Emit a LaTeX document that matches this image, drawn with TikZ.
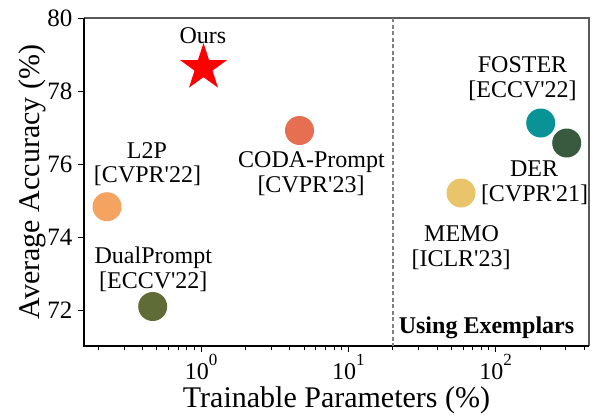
\documentclass[tikz,border=0pt]{standalone}
\usepackage{fontspec}
\setmainfont{Liberation Serif}[Ligatures=TeXOff]
\usetikzlibrary{shapes.geometric}
\definecolor{cL}{HTML}{F4A460}
\definecolor{cD}{HTML}{606C38}
\definecolor{cC}{HTML}{E76F51}
\definecolor{cF}{HTML}{0A9396}
\definecolor{cR}{HTML}{3A5A40}
\definecolor{cM}{HTML}{E9C46A}
\definecolor{spinegray}{gray}{0.35}
\tikzset{
  dot/.style={circle, inner sep=0pt, minimum size=29pt},
  lab/.style={font=\fontsize{24}{24}\selectfont, anchor=base, inner sep=0pt},
  ytl/.style={font=\fontsize{25}{25}\selectfont, anchor=base east, inner sep=0pt},
  xtl/.style={font=\fontsize{24}{24}\selectfont, anchor=base, inner sep=0pt},
  axlab/.style={font=\fontsize{30}{30}\selectfont, anchor=base, inner sep=0pt},
  spine/.style={line width=1.4pt},
  tick/.style={line width=1pt}
}
\newcommand{\tenp}[1]{10\raisebox{14pt}{\fontsize{17}{17}\selectfont #1}}
\begin{document}
\begin{tikzpicture}[x=1pt,y=-1pt]
\fill[white] (0,0) rectangle (593,416);
\useasboundingbox (0,0) rectangle (593,416);
% axes frame
\coordinate (bl) at (84,346);
\coordinate (tl) at (84,18);
\coordinate (tr) at (589,18);
\coordinate (br) at (589,346);
\draw[spine, spinegray] (tl) -- (tr) -- (br);
\draw[spine, black] (tl) -- (bl) -- (br);
% dashed separator
\coordinate (dtop) at (393,18);
\coordinate (dbot) at (393,346);
\draw[gray, line width=1.1pt, dash pattern=on 4pt off 2.5pt] (dtop) -- (dbot);
% y ticks
\foreach \a in {72,74,76,78,80}{
  \pgfmathsetmacro{\yy}{18+(80-\a)*36.5}
  \draw[tick] (78,\yy) -- (84,\yy);
  \node[ytl] at (72.5,\yy+8.5) {\a};
}
% x major ticks
\foreach \e/\xx in {0/201,1/348.3,2/495.6}{
  \draw[tick] (\xx,346) -- (\xx,352);
  \node[xtl] at (\xx,379.3) {\tenp{\e}};
}
% x minor ticks
\foreach \v in {0.2,0.3,0.4,0.5,0.6,0.7,0.8,0.9,2,3,4,5,6,7,8,9,20,30,40,50,60,70,80,90,200,300,400}{
  \pgfmathsetmacro{\xx}{201+147.3*log10(\v)}
  \draw[line width=0.8pt] (\xx,346) -- (\xx,349.5);
}
% axis labels
\node[axlab] (xlab) at (336.5,407.5) {Trainable Parameters (\%)};
\node[axlab, rotate=90] (ylab) at (39,182) {Average Accuracy (\%)};
% data points
\node[star, star points=5, star point ratio=2.618, fill=red, minimum size=49.4pt, inner sep=0pt] (ours) at (203.5,67.7) {};
\node[dot, fill=cL] (l2p) at (107,206.7) {};
\node[dot, fill=cD] (dual) at (152.7,306.5) {};
\node[dot, fill=cC] (coda) at (299.5,130.5) {};
\node[dot, fill=cF] (foster) at (540.7,123) {};
\node[dot, fill=cR] (der) at (566.7,143) {};
\node[dot, fill=cM] (memo) at (461,193) {};
% labels
\node[lab] (oursA) at (203,43) {Ours};
\node[lab] (l2pA) at (147,158) {L2P};
\node[lab] (l2pB) at (147.5,182.3) {[CVPR'22]};
\node[lab] (codaA) at (311.5,167.5) {CODA-Prompt};
\node[lab] (codaB) at (311,192.5) {[CVPR'23]};
\node[lab] (fosterA) at (522.5,72.7) {FOSTER};
\node[lab] (fosterB) at (522.5,97.7) {[ECCV'22]};
\node[lab] (derA) at (534,176.7) {DER};
\node[lab] (derB) at (534.5,201.7) {[CVPR'21]};
\node[lab] (memoA) at (461.5,241.7) {MEMO};
\node[lab] (memoB) at (461,266.7) {[ICLR'23]};
\node[lab] (dualA) at (153.3,263.3) {DualPrompt};
\node[lab] (dualB) at (153.3,288.3) {[ECCV'22]};
\node[lab, font=\fontsize{24}{24}\selectfont\bfseries] (usex) at (486.5,333.3) {Using Exemplars};
\end{tikzpicture}
\end{document}
